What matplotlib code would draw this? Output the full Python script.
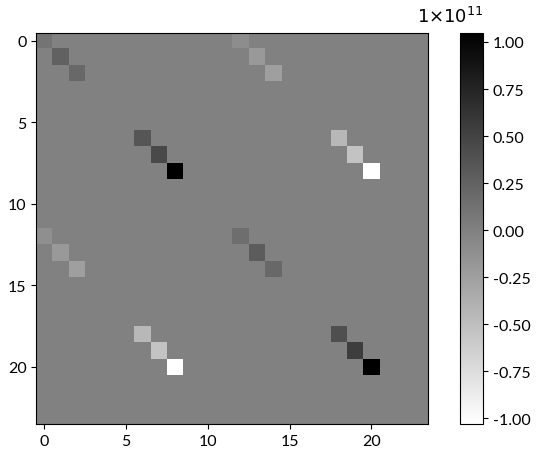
import matplotlib
matplotlib.use('Agg')
import matplotlib.pyplot as plt
import numpy as np

plt.rcParams['font.family'] = ['Lato', 'DejaVu Sans']

n = 24
scale = 1e11

# (row, col) positions and values (in units of 1e11)
pos_rows = [0, 1, 2, 6, 7, 8, 12, 13, 14, 18, 19, 20]
pos_cols = [0, 1, 2, 6, 7, 8, 12, 13, 14, 18, 19, 20]
pos_vals = [0.10, 0.25, 0.20, 0.35, 0.45, 1.05, 0.15, 0.30, 0.20, 0.40, 0.55, 1.05]

neg_rows = [0, 1, 2, 6, 7, 8, 12, 13, 14, 18, 19, 20]
neg_cols = [12, 13, 14, 18, 19, 20, 0, 1, 2, 6, 7, 8]
neg_vals = [-0.10, -0.20, -0.25, -0.45, -0.55, -1.03, -0.12, -0.20, -0.25, -0.45, -0.55, -1.03]

mat = np.zeros((n, n))
for r, c, v in zip(pos_rows, pos_cols, pos_vals):
    mat[r, c] = v * scale
for r, c, v in zip(neg_rows, neg_cols, neg_vals):
    mat[r, c] = v * scale

fig = plt.figure(figsize=(5.5, 4.6), dpi=100)
ax = fig.add_axes([0.066, 0.076, 0.713, 0.851])
cax = fig.add_axes([0.836, 0.076, 0.042, 0.851])

im = ax.imshow(mat, cmap='gray_r', aspect='auto')
ax.set_xticks([0, 5, 10, 15, 20])
ax.set_yticks([0, 5, 10, 15, 20])
ax.tick_params(labelsize=11.5)

cb = fig.colorbar(im, cax=cax)
ticks = np.arange(-1.0, 1.01, 0.25)
cb.set_ticks(ticks * scale)
cb.set_ticklabels([f'{t:.2f}' for t in ticks])
cb.ax.tick_params(labelsize=11.5)
fig.text(0.818, 0.965, r'$1{\times}10^{11}$', ha='center', va='center', fontsize=13)

fig.savefig('out.png', dpi=100)
